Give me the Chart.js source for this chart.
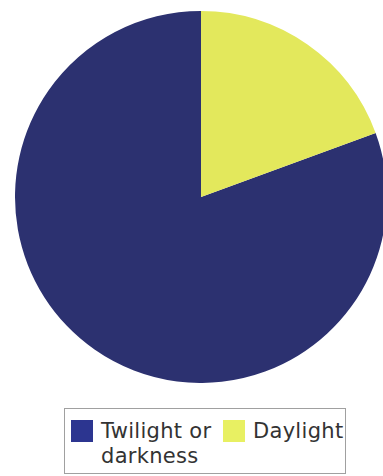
<!DOCTYPE html>
<html>
<head>
<meta charset="utf-8">
<script src="https://cdn.jsdelivr.net/npm/chart.js@4/dist/chart.umd.min.js"></script>
<style>
  html, body { margin: 0; padding: 0; background: #ffffff; overflow: hidden; }
  body { width: 383px; height: 476px; position: relative; }
  #pieWrap { position: absolute; left: 15px; top: 11px; width: 372px; height: 372px; }
  #legend {
    position: absolute; left: 64px; top: 408px; width: 280px; height: 64px;
    border: 1px solid #a0a0a0; box-sizing: content-box;
    font-family: "DejaVu Sans", Verdana, sans-serif; font-size: 21px; color: #333333;
    line-height: 25px;
  }
  .item { position: absolute; top: 10px; display: flex; align-items: flex-start; }
  .swatch { width: 22px; height: 22px; margin-top: 1px; flex: none; }
  .text { margin-left: 8px; letter-spacing: 0.3px; }
</style>
</head>
<body>
<div id="pieWrap"><canvas id="pie"></canvas></div>
<div id="legend"></div>
<script>
// Share of time by light condition (percent)
const categories = ['Twilight or darkness', 'Daylight'];
const shares = [80.6, 19.4];
const sliceColors = ['#2c3170', '#e3e85c'];
const legendColors = ['#2c3590', '#e8f062'];

const total = shares.reduce((a, b) => a + b, 0);
// Daylight begins at 12 o'clock and runs clockwise, so the first slice starts where it ends
const startAngle = shares[1] / total * 360;

new Chart(document.getElementById('pie'), {
  type: 'pie',
  data: {
    labels: categories,
    datasets: [{
      data: shares,
      backgroundColor: sliceColors,
      borderWidth: 0
    }]
  },
  options: {
    responsive: true,
    maintainAspectRatio: false,
    animation: false,
    rotation: startAngle,
    layout: { padding: 0 },
    plugins: { legend: { display: false }, tooltip: { enabled: false } }
  }
});

// Boxed legend below the pie
const legend = document.getElementById('legend');
const itemLeft = [6, 158];
const textWidth = [120, 100];
categories.forEach((name, i) => {
  const item = document.createElement('div');
  item.className = 'item';
  item.style.left = itemLeft[i] + 'px';
  const sw = document.createElement('div');
  sw.className = 'swatch';
  sw.style.background = legendColors[i];
  const tx = document.createElement('div');
  tx.className = 'text';
  tx.style.width = textWidth[i] + 'px';
  tx.textContent = name;
  item.appendChild(sw);
  item.appendChild(tx);
  legend.appendChild(item);
});
</script>
</body>
</html>
